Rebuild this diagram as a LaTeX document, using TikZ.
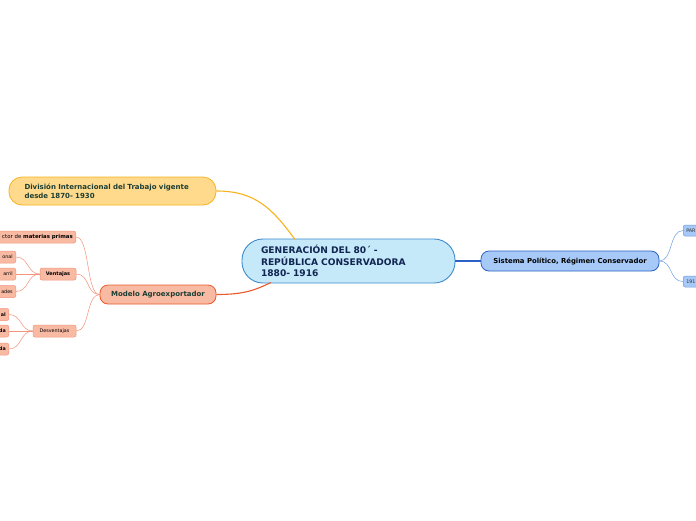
\documentclass[tikz,border=0pt]{standalone}
\usepackage{fontspec}
\setmainfont{DejaVu Sans}
\setsansfont{DejaVu Sans}
\definecolor{cenfill}{HTML}{C6E9FA}
\definecolor{cendraw}{HTML}{3E8CCB}
\definecolor{centext}{HTML}{102552}
\definecolor{yelfill}{HTML}{FFDA8C}
\definecolor{yeldraw}{HTML}{F5B41E}
\definecolor{grtext}{HTML}{1C3D33}
\definecolor{salfill}{HTML}{F9BAA3}
\definecolor{saldraw}{HTML}{E85A2C}
\definecolor{sallight}{HTML}{F4937C}
\definecolor{blufill}{HTML}{A7C9F7}
\definecolor{bludraw}{HTML}{2C62C6}
\definecolor{blulight}{HTML}{6E9DE2}
\tikzset{
  base/.style={rectangle, inner sep=0pt, font=\sffamily},
  central/.style={base, fill=cenfill, draw=cendraw, line width=0.9pt, rounded corners=21pt,
     minimum width=213pt, minimum height=44pt, text=centext, font=\sffamily\bfseries\fontsize{9.1}{11.5}\selectfont,
     align=left, text width=175pt},
  yellowbox/.style={base, fill=yelfill, draw=yeldraw, line width=0.8pt, rounded corners=13pt,
     minimum width=207pt, minimum height=28pt, text=grtext, font=\sffamily\bfseries\fontsize{7}{9}\selectfont,
     align=left, text width=176pt},
  modelbox/.style={base, fill=salfill, draw=saldraw, line width=0.8pt, rounded corners=8pt,
     minimum width=116pt, minimum height=19pt, text=grtext, font=\sffamily\bfseries\fontsize{7}{8}\selectfont},
  sistbox/.style={base, fill=blufill, draw=bludraw, line width=0.8pt, rounded corners=8pt,
     minimum width=178pt, minimum height=20pt, text=black, font=\sffamily\bfseries\fontsize{6.9}{8}\selectfont},
  bluesmall/.style={base, fill=blufill, draw=blulight, line width=0.5pt, rounded corners=2pt,
     minimum height=11pt, text=black!80, font=\sffamily\upshape\mdseries\fontsize{4.8}{5}\selectfont, text width=40pt, align=left, inner xsep=3pt},
  salsmall/.style={base, fill=salfill, draw=sallight, line width=0.5pt, rounded corners=2pt,
     minimum height=12pt, text=black, font=\sffamily\upshape\mdseries\fontsize{4.8}{5}\selectfont},
  leftsmall/.style={salsmall, text width=120pt, align=right, inner xsep=3pt},
  conn/.style={line width=1.1pt},
  thin/.style={line width=0.5pt, sallight},
  thinb/.style={line width=0.5pt, blulight},
}
\begin{document}
\begin{tikzpicture}[x=1pt,y=-1pt]
\useasboundingbox (0,0) rectangle (696,520);
\fill[white] (0,0) rectangle (696,520);
\clip (0,0) rectangle (696,520);

% main nodes
\node[central] (c) at (348.5,261) {GENERACIÓN DEL 80´ -\\REPÚBLICA CONSERVADORA\\1880- 1916};
\node[yellowbox] (y) at (112.5,191) {División Internacional del Trabajo vigente\\desde 1870- 1930};
\node[modelbox] (m) at (158,294.5) {Modelo Agroexportador};
\node[sistbox] (s) at (570,261) {Sistema Político, Régimen Conservador};

% right small
\node[bluesmall, anchor=west] (r1) at (683,230.5) {PAR};
\node[bluesmall, anchor=west] (r2) at (683,281.5) {191};

% left subtree
\node[leftsmall, anchor=east, font=\sffamily\upshape\mdseries\fontsize{5.4}{5.5}\selectfont] (l1) at (76,237) {ctor de \textbf{materias primas}};
\node[salsmall, minimum width=36pt, font=\sffamily\bfseries\fontsize{5}{5}\selectfont] (v) at (58,274) {Ventajas};
\node[salsmall, minimum width=43pt] (d) at (54.5,331) {Desventajas};
\node[leftsmall, anchor=east] (v1) at (16,257) {onal};
\node[leftsmall, anchor=east] (v2) at (16,274) {arril};
\node[leftsmall, anchor=east] (v3) at (16,291.5) {ades};
\node[leftsmall, anchor=east, font=\sffamily\bfseries\fontsize{4.8}{5}\selectfont] (d1) at (9,314.5) {al};
\node[leftsmall, anchor=east, font=\sffamily\bfseries\fontsize{4.8}{5}\selectfont] (d2) at (9,331) {da};
\node[leftsmall, anchor=east, font=\sffamily\bfseries\fontsize{4.8}{5}\selectfont] (d3) at (9,349) {da};

% connectors
\coordinate (ctop) at (295,239.5);
\coordinate (cbot) at (271,282.5);
\draw[conn, yeldraw] (y.east) .. controls (255,191) and (272,208) .. (ctop);
\draw[conn, saldraw] (m.east) .. controls (245,294.5) and (255,290) .. (cbot);
\draw[conn, bludraw] (c.east) -- (s.west);

\draw[thinb] (s.east) .. controls (673,261) and (669,230.5) .. (r1.west);
\draw[thinb] (s.east) .. controls (673,261) and (669,281.5) .. (r2.west);

\draw[thin] (m.west) .. controls (86,294.5) and (90,237) .. (l1.east);
\draw[thin] (m.west) .. controls (86,294.5) and (90,274) .. (v.east);
\draw[thin] (m.west) .. controls (86,294.5) and (90,331) .. (d.east);

\draw[thin] (v.west) .. controls (27,274) and (29,257) .. (v1.east);
\draw[thin] (v.west) -- (v2.east);
\draw[thin] (v.west) .. controls (27,274) and (29,291.5) .. (v3.east);

\draw[thin] (d.west) .. controls (20,331) and (22,314.5) .. (d1.east);
\draw[thin] (d.west) -- (d2.east);
\draw[thin] (d.west) .. controls (20,331) and (22,349) .. (d3.east);
\end{tikzpicture}
\end{document}
